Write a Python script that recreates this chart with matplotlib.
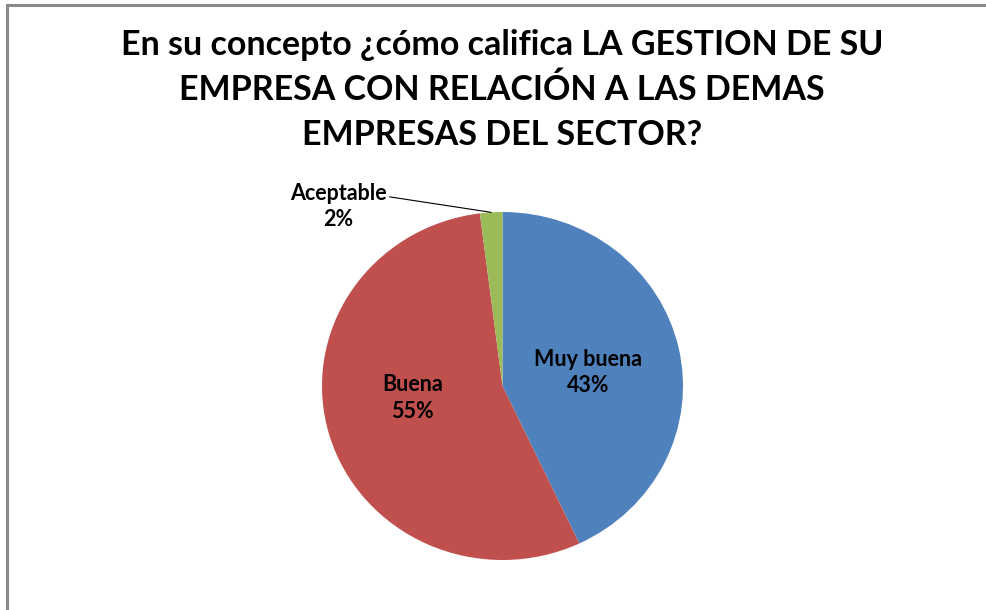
import numpy as np
import matplotlib
matplotlib.use('Agg')
import matplotlib.pyplot as plt
from matplotlib.patches import Rectangle

plt.rcParams['font.family'] = ['Lato', 'DejaVu Sans']

# datos de la encuesta
categorias = ['Muy buena', 'Buena', 'Aceptable']
porcentajes = [43, 55, 2]
colores = ['#4F81BD', '#C0504D', '#9BBB59']

titulo = ('En su concepto ¿cómo califica LA GESTION DE SU\n'
          'EMPRESA CON RELACIÓN A LAS DEMAS\n'
          'EMPRESAS DEL SECTOR?')

fig = plt.figure(figsize=(9.86, 6.10), dpi=100)
fig.patch.set_facecolor('white')

# marco gris del grafico
fig.patches.append(Rectangle((7 / 986, -0.05), 1.1, 0.9918 + 0.05, fill=False,
                             edgecolor='#8a8a8a', lw=2.2, transform=fig.transFigure))

fig.text(0.509, 1 - 90 / 610, titulo, ha='center', va='center', fontsize=24.5,
         fontweight='bold', linespacing=1.48, color='black')

ax = fig.add_axes([322 / 986, 50 / 610, 361 / 986, 348 / 610])
wedges, _ = ax.pie(porcentajes, colors=colores, startangle=90, counterclock=False,
                   wedgeprops=dict(linewidth=0))
ax.set_aspect('auto')
ax.set_xlim(-1, 1)
ax.set_ylim(-1, 1)

etiquetas = ['%s\n%d%%' % (c, p) for c, p in zip(categorias, porcentajes)]
pos = [(0.476, 0.075), (-0.499, -0.069), (-0.909, 1.03)]

for i, w in enumerate(wedges):
    if i < 2:
        ax.text(pos[i][0], pos[i][1], etiquetas[i], ha='center', va='center',
                fontsize=15.5, fontweight='bold', linespacing=1.3)
    else:
        ang = np.deg2rad((w.theta1 + w.theta2) / 2)
        ax.annotate(etiquetas[i], xy=(np.cos(ang), np.sin(ang)), xytext=pos[i],
                    ha='center', va='center', fontsize=15.5, fontweight='bold',
                    linespacing=1.3, annotation_clip=False,
                    arrowprops=dict(arrowstyle='-', color='black', lw=0.8,
                                    shrinkA=0, shrinkB=0,
                                    relpos=(1.0, 0.72)))

fig.savefig('out.png', dpi=100, facecolor='white')
